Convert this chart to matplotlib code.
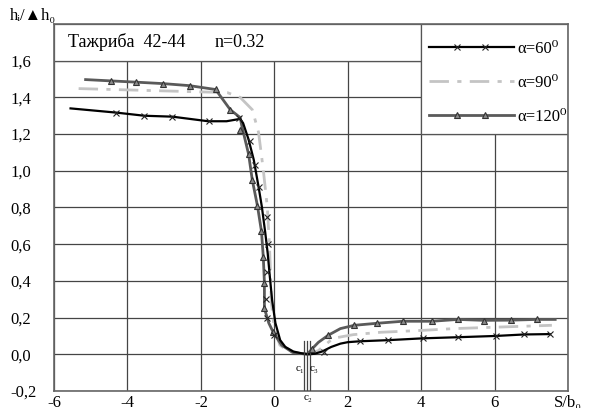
import matplotlib.pyplot as plt
from matplotlib.patches import Rectangle
from matplotlib.lines import Line2D
from matplotlib.legend_handler import HandlerLine2D

plt.rcParams['font.family'] = ['Liberation Serif', 'DejaVu Serif']
plt.rcParams['font.size'] = 12

#
# Relative depth along the flow, three approach angles
#
x60 = [-5.55, -4.3, -3.54, -2.78, -1.8, -1.3, -0.93, -0.85, -0.70, -0.56,
       -0.43, -0.34, -0.245, -0.18, -0.13, -0.06, 0.03, 0.16, 0.3, 0.52,
       0.75, 0.95, 1.1, 1.3, 1.55, 1.8, 2.0, 2.34, 3.1, 4.05, 5.0, 6.04,
       6.8, 7.5]
y60 = [1.34, 1.317, 1.30, 1.295, 1.27, 1.27, 1.283, 1.26, 1.17, 1.06,
       0.914, 0.805, 0.66, 0.55, 0.44, 0.295, 0.17, 0.077, 0.04, 0.015,
       0.005, 0.0, 0.003, 0.015, 0.04, 0.058, 0.066, 0.071, 0.077, 0.087,
       0.093, 0.10, 0.108, 0.11]
x60_pts = [-4.3, -3.54, -2.78, -1.78, -0.95, -0.66, -0.52, -0.41, -0.19,
           -0.16, -0.21, -0.24, -0.2, 0.0, 1.34, 2.34, 3.1, 4.05, 5.0, 6.04,
           6.8, 7.5]
y60_pts = [1.317, 1.30, 1.295, 1.27, 1.285, 1.16, 1.03, 0.91, 0.75, 0.60,
           0.45, 0.30, 0.20, 0.104, 0.013, 0.071, 0.077, 0.087, 0.093, 0.10,
           0.108, 0.11]

x90 = [-5.33, -2.0, -1.28, -0.93, -0.6, -0.43, -0.3, -0.19, -0.13, -0.1,
       -0.08, 0.0, 0.15, 0.4, 0.9, 1.2, 1.6, 2.15, 2.9, 4.0, 4.9, 6.07, 7.56]
y90 = [1.448, 1.43, 1.426, 1.40, 1.333, 1.21, 1.005, 0.80, 0.585, 0.42,
       0.28, 0.14, 0.05, 0.015, 0.0, 0.02, 0.087, 0.107, 0.12, 0.13, 0.14,
       0.148, 0.158]

x120 = [-5.14, -4.46, -3.76, -3.02, -2.31, -1.6, -1.2, -0.93, -0.88, -0.7,
        -0.6, -0.46, -0.35, -0.3, -0.27, -0.27, -0.15, -0.03, 0.2, 0.5, 0.9,
        1.03, 1.2, 1.47, 1.8, 2.18, 2.8, 3.5, 4.3, 5.0, 5.7, 6.45, 7.15, 7.65]
y120 = [1.497, 1.49, 1.483, 1.475, 1.464, 1.443, 1.333, 1.29, 1.24, 1.09,
        0.95, 0.81, 0.67, 0.53, 0.39, 0.25, 0.17, 0.12, 0.05, 0.01, 0.0,
        0.03, 0.065, 0.104, 0.14, 0.158, 0.169, 0.18, 0.18, 0.19, 0.185,
        0.186, 0.19, 0.19]
x120_pts = [-4.46, -3.76, -3.02, -2.31, -1.6, -1.2, -0.93, -0.7, -0.6,
            -0.46, -0.35, -0.3, -0.27, -0.27, -0.03, 1.03, 1.47, 2.18, 2.8,
            3.5, 4.3, 5.0, 5.7, 6.45, 7.15]
y120_pts = [1.49, 1.483, 1.475, 1.464, 1.443, 1.333, 1.224, 1.09, 0.95,
            0.81, 0.67, 0.53, 0.39, 0.25, 0.12, 0.03, 0.104, 0.158, 0.169,
            0.18, 0.18, 0.19, 0.18, 0.186, 0.19]

# section marks c1, c2, c3
xc = [0.82, 0.90, 0.98]

xticks = [-6, -4, -2, 0, 2, 4, 6, 8]
xlabels = ['-6', '-4', '-2', '0', '2', '4', '6', 'S/b₀']
yticks = [-0.2, 0.0, 0.2, 0.4, 0.6, 0.8, 1.0, 1.2, 1.4, 1.6]
ylabels = ['-0,2', '0,0', '0,2', '0,4', '0,6', '0,8', '1,0', '1,2', '1,4',
           '1,6']


class InnerMarkers(HandlerLine2D):
    # line over the whole handle, markers only on the two inner points
    def create_artists(self, *args, **kwargs):
        arts = super().create_artists(*args, **kwargs)
        for a in arts:
            a.set_markevery([1, 2])
        return arts


fig = plt.figure(figsize=(5.93, 4.08), dpi=100)
ax = fig.add_axes([0.0911, 0.0417, 0.8668, 0.8995])

ax.set_xlim(-6, 8)
ax.set_ylim(-0.2, 1.8)
ax.set_xticks(xticks)
ax.set_xticklabels(xlabels)
ax.set_yticks(yticks + [1.8])
ax.set_yticklabels(ylabels + [''])
ax.tick_params(length=0)
ax.tick_params(axis='x', pad=3)
ax.tick_params(axis='y', pad=31.5)
for t in ax.get_yticklabels():
    t.set_ha('left')
ax.grid(True, color='#454545', lw=0.9)
for s in ax.spines.values():
    s.set_color('#666666')
    s.set_linewidth(1.2)

# boxes for the title and the legend, grid hidden under them
ax.add_patch(Rectangle((-6, 1.6), 10, 0.2, fc='white', ec='#555555',
                       lw=0.9, zorder=2))
ax.add_patch(Rectangle((4, 1.2), 4, 0.6, fc='white', ec='#555555',
                       lw=0.9, zorder=2))
ax.text(-5.62, 1.70, 'Тажриба  42-44', fontsize=13, va='center', zorder=4)
ax.text(-1.62, 1.70, 'n=0.32', fontsize=13, va='center', zorder=4)

ax.plot(x90, y90, color='#c4c4c4', lw=2.0, ls=(0, (7, 3, 1.5, 3)),
        zorder=3)
ax.plot(x120, y120, color='#5a5a5a', lw=2.0, zorder=3)
ax.plot(x120_pts, y120_pts, ls='none', marker='^', ms=4.5, mfc='#8a8a8a',
        mec='#333333', mew=0.8, zorder=4)
ax.plot(x60, y60, color='black', lw=1.6, zorder=3)
ax.plot(x60_pts, y60_pts, ls='none', marker='x', ms=5, mec='#222222',
        mew=0.8, zorder=4)

for xv in xc:
    ax.plot([xv, xv], [-0.2, 0.07], color='#444444', lw=0.9, zorder=3)
ax.text(0.71, -0.08, 'c₁', fontsize=8, ha='center', va='center')
ax.text(1.09, -0.08, 'c₃', fontsize=8, ha='center', va='center')
ax.text(0.91, -0.235, 'c₂', fontsize=8, ha='center', va='center',
        clip_on=False)

fig.text(10/593, 1 - 16/408, 'hᵢ/▲h₀', ha='left', va='center')

h60 = Line2D([], [], color='black', lw=1.6, marker='x', ms=5,
             mec='#222222', mew=0.8)
h90 = Line2D([], [], color='#c4c4c4', lw=2.0, ls=(0, (7, 3, 1.5, 3)))
h120 = Line2D([], [], color='#5a5a5a', lw=2.0, marker='^', ms=4.5,
              mfc='#8a8a8a', mec='#333333', mew=0.8)
ax.legend([h60, h90, h120], ['α=60⁰', 'α=90⁰', 'α=120⁰'],
          loc='upper left', bbox_to_anchor=(4.2, 1.71),
          bbox_transform=ax.transData, frameon=False, borderpad=0,
          borderaxespad=0, handlelength=5.1, handletextpad=0.25,
          labelspacing=1.1, fontsize=12,
          handler_map={Line2D: InnerMarkers(marker_pad=0, numpoints=4)})

fig.savefig('out.png', dpi=100)
